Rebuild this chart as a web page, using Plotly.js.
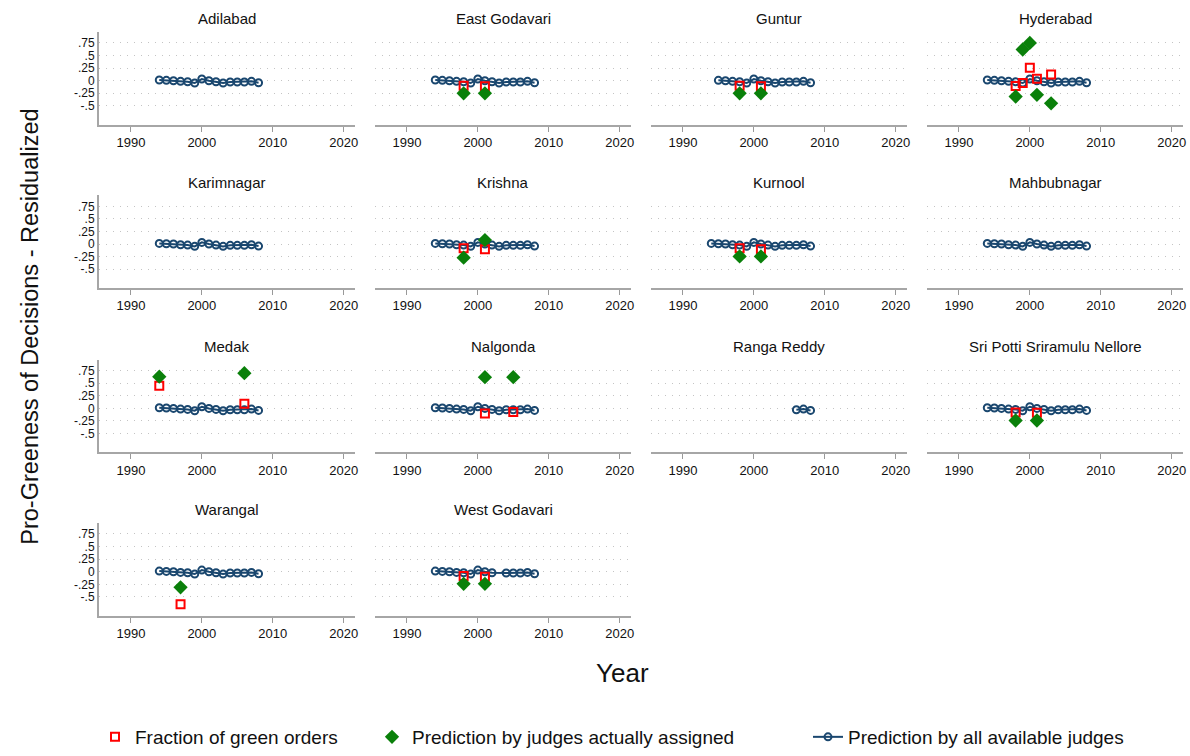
<!DOCTYPE html>
<html>
<head>
<meta charset="utf-8">
<script src="https://cdn.plot.ly/plotly-3.0.1.min.js"></script>
<style>html,body{margin:0;padding:0;background:#fff;}#chart{width:1190px;height:756px;}</style>
</head>
<body>
<div id="chart"></div>
<script>
// ---------------- data ----------------
const districts = ["Adilabad","East Godavari","Guntur","Hyderabad","Karimnagar","Krishna","Kurnool","Mahbubnagar","Medak","Nalgonda","Ranga Reddy","Sri Potti Sriramulu Nellore","Warangal","West Godavari"];

const years = [1994,1995,1996,1997,1998,1999,2000,2001,2002,2003,2004,2005,2006,2007,2008];
// Prediction by all available judges (same path in every district)
const allJudgesPred = [0.013,0.007,0.0,-0.013,-0.02,-0.046,0.033,0.0,-0.02,-0.046,-0.026,-0.026,-0.026,-0.013,-0.04];

// years in which each district has the "all judges" prediction
const fullYears = [1994,1995,1996,1997,1998,1999,2000,2001,2002,2003,2004,2005,2006,2007,2008];
const lineYears = [
  fullYears, fullYears,
  [1995,1996,1997,1998,1999,2000,2001,2002,2003,2004,2005,2006,2007,2008],
  fullYears, fullYears, fullYears, fullYears, fullYears, fullYears, fullYears,
  [2006,2007,2008],
  fullYears, fullYears,
  [1994,1995,1996,1997,1998,1999,2000,2001,2002,2004,2005,2006,2007,2008]
];

// Fraction of green orders
const fracYears = [[],[1998,2001],[1998,2001],[1998,1999,2000,2001,2003],[],[1998,2001],[1998,2001],[],[1994,2006],[2001,2005],[],[1998,2001],[1997],[1998,2001]];
const fracVals  = [[],[-0.10,-0.11],[-0.10,-0.11],[-0.105,-0.046,0.257,0.04,0.125],[],[-0.085,-0.105],[-0.085,-0.105],[],[0.45,0.09],[-0.10,-0.07],[],[-0.08,-0.085],[-0.645],[-0.085,-0.10]];

// Prediction by judges actually assigned
const assignedYears = [[],[1998,2001],[1998,2001],[1998,1999,2000,2001,2003],[],[1998,2001],[1998,2001],[],[1994,2006],[2001,2005],[],[1998,2001],[1997],[1998,2001]];
const assignedVals  = [[],[-0.25,-0.25],[-0.25,-0.25],[-0.316,0.62,0.75,-0.28,-0.45],[],[-0.27,0.08],[-0.245,-0.245],[],[0.63,0.70],[0.62,0.62],[],[-0.24,-0.24],[-0.31],[-0.24,-0.24]];

const xTicks = [1990,2000,2010,2020];
const yTicks = [-0.5,-0.25,0,0.25,0.5,0.75];
const yTickText = ["-.5","-.25","0",".25",".5",".75"];

const legendLabels = ["Fraction of green orders","Prediction by judges actually assigned","Prediction by all available judges"];
const xTitle = "Year";
const yTitle = "Pro-Greeness of Decisions - Residualized";

// ---------------- layout helpers ----------------
const W = 1190, H = 756;
const FONT = "'Liberation Sans Narrow', 'Arial Narrow', 'Liberation Sans', Arial, sans-serif";
const colLeft = [99, 375, 651, 927];
const panelW = 256;
const rowTop = [32, 196, 361, 525];
const panelH = 93;

const NAVY = "#1a476f", RED = "#ff0000", GREEN = "#0a800a";

const traces = [];
const legendBase = {yanchor:"middle", xanchor:"left", orientation:"h", font:{size:19, family:FONT, color:"#111"}, bgcolor:"rgba(0,0,0,0)"};
const layout = {
  width: W, height: H,
  margin: {l:0, r:0, t:0, b:0},
  paper_bgcolor: "#fff", plot_bgcolor: "#fff",
  font: {family: FONT, color: "#111"},
  showlegend: true,
  annotations: [],
  legend:  Object.assign({}, legendBase, {x: 95/W,  y: 1-740/H}),
  legend2: Object.assign({}, legendBase, {x: 372/W, y: 1-740/H}),
  legend3: Object.assign({}, legendBase, {x: 808/W, y: 1-740/H})
};

districts.forEach((name, i) => {
  const r = Math.floor(i / 4), c = i % 4;
  const k = i + 1;
  const xa = k === 1 ? "x" : "x" + k;
  const ya = k === 1 ? "y" : "y" + k;
  const xKey = k === 1 ? "xaxis" : "xaxis" + k;
  const yKey = k === 1 ? "yaxis" : "yaxis" + k;
  const x0 = colLeft[c], y0 = rowTop[r];

  layout[xKey] = {
    domain: [x0 / W, (x0 + panelW) / W],
    anchor: ya,
    range: [1985.5, 2021.6],
    tickvals: xTicks,
    ticks: "outside", ticklen: 5, tickwidth: 1, tickcolor: "#999",
    showline: true, linecolor: "#a6a6a6", linewidth: 2,
    showgrid: false, zeroline: false,
    tickfont: {size: 13, family: FONT, color: "#111"},
    fixedrange: true
  };
  layout[yKey] = {
    domain: [1 - (y0 + panelH) / H, 1 - y0 / H],
    anchor: xa,
    range: [-0.87, 0.97],
    tickvals: yTicks, ticktext: yTickText,
    showticklabels: c === 0,
    ticks: "",
    showline: c === 0, linecolor: "#a6a6a6", linewidth: 2,
    showgrid: true, gridcolor: "#c4c4c4", gridwidth: 1, griddash: "1px,6px",
    zeroline: false,
    tickfont: {size: 12, family: FONT, color: "#111"},
    fixedrange: true
  };

  layout.annotations.push({
    text: name, xref: "paper", yref: "paper",
    x: (x0 + panelW / 2) / W, y: 1 - (y0 - 13) / H,
    xanchor: "center", yanchor: "middle", showarrow: false,
    font: {size: 15, family: FONT, color: "#111"}
  });

  const ly = lineYears[i];
  const lv = ly.map(yr => allJudgesPred[years.indexOf(yr)]);
  traces.push({
    type: "scatter", mode: "lines+markers", x: ly, y: lv, xaxis: xa, yaxis: ya,
    name: legendLabels[2], legend: "legend3", showlegend: i === 0,
    line: {color: NAVY, width: 2},
    marker: {symbol: "circle-open", size: 7, color: NAVY, line: {width: 2}},
    hoverinfo: "skip"
  });
  traces.push({
    type: "scatter", mode: "markers", x: fracYears[i], y: fracVals[i], xaxis: xa, yaxis: ya,
    name: legendLabels[0], legend: "legend", showlegend: i === 1,
    marker: {symbol: "square-open", size: 8, color: RED, line: {width: 2}},
    hoverinfo: "skip"
  });
  traces.push({
    type: "scatter", mode: "markers", x: assignedYears[i], y: assignedVals[i], xaxis: xa, yaxis: ya,
    name: legendLabels[1], legend: "legend2", showlegend: i === 1,
    marker: {symbol: "diamond", size: 11, color: GREEN},
    hoverinfo: "skip"
  });
});

layout.annotations.push({
  text: xTitle, xref: "paper", yref: "paper", x: 622 / W, y: 1 - 676 / H,
  xanchor: "center", yanchor: "middle", showarrow: false,
  font: {size: 26, family: FONT, color: "#111"}
});
layout.annotations.push({
  text: yTitle, xref: "paper", yref: "paper", x: 30 / W, y: 1 - 328 / H,
  xanchor: "center", yanchor: "middle", showarrow: false, textangle: -90,
  font: {size: 23.5, family: FONT, color: "#111"}
});

Plotly.newPlot("chart", traces, layout, {staticPlot: true, displayModeBar: false});
</script>
</body>
</html>
